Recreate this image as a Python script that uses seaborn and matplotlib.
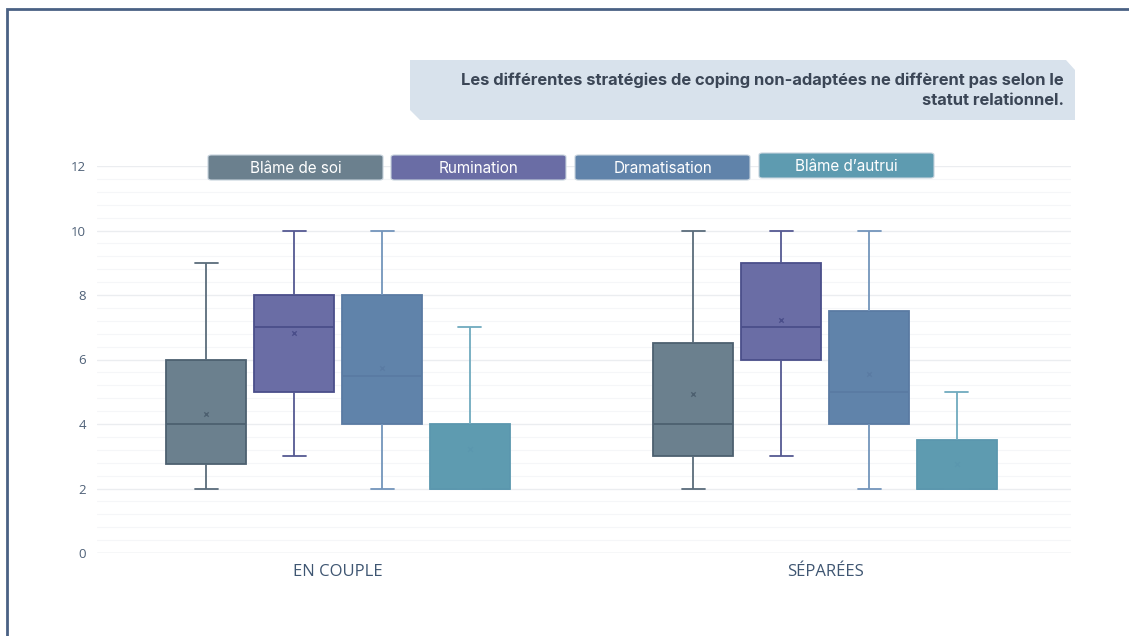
import numpy as np
import pandas as pd
import matplotlib.pyplot as plt
import seaborn as sns
from matplotlib.patches import FancyBboxPatch, Polygon, Rectangle
from matplotlib.colors import to_rgb

# Categories and series
groups = ['EN COUPLE', 'SÉPARÉES']
strategies = ['Blâme de soi', 'Rumination', 'Dramatisation', 'Blâme d\u2019autrui']

# Box summaries (min, q1, median, q3, max), per group
couple_min    = [2, 3, 2, 2]
couple_q1     = [2.75, 5, 4, 2]
couple_median = [4, 7, 5.5, 2]
couple_q3     = [6, 8, 8, 4]
couple_max    = [9, 10, 10, 7]
couple_mean   = [4.3, 6.82, 5.74, 3.22]

sep_min    = [2, 3, 2, 2]
sep_q1     = [3, 6, 4, 2]
sep_median = [4, 7, 5, 2]
sep_q3     = [6.5, 9, 7.5, 3.5]
sep_max    = [10, 10, 10, 5]
sep_mean   = [4.92, 7.23, 5.55, 2.76]

fills = ['#6b808e', '#6a6da5', '#6083aa', '#5e9bb0']
edges = ['#4d6070', '#4a4e8a', '#5a7ba3', '#5b97ae']
whisk = ['#5a6c7b', '#555992', '#7395bb', '#70aabe']
title = ("Les différentes stratégies de coping non-adaptées ne diffèrent pas selon le\n"
         "statut relationnel.")

# Build a long table: five values per box give exactly the drawn quartiles
rows = []
summaries = {
    'EN COUPLE': (couple_min, couple_q1, couple_median, couple_q3, couple_max),
    'SÉPARÉES': (sep_min, sep_q1, sep_median, sep_q3, sep_max),
}
for g in groups:
    for i, s in enumerate(strategies):
        for stat in summaries[g]:
            rows.append({'groupe': g, 'strategie': s, 'score': stat[i]})
df = pd.DataFrame(rows)

means = pd.DataFrame({
    'groupe': [g for g in groups for _ in strategies],
    'strategie': strategies * 2,
    'moyenne': couple_mean + sep_mean,
})

sns.set_theme(style='white')
plt.rcParams['font.family'] = ['Open Sans', 'DejaVu Sans']

fig = plt.figure(figsize=(11.29, 6.36), dpi=100)
ax = fig.add_axes([97 / 1129, 1 - 553 / 636, 974 / 1129, 387 / 636])

sns.boxplot(data=df, x='groupe', y='score', hue='strategie', order=groups,
            hue_order=strategies, palette=fills, width=0.722, gap=0.09,
            whis=np.inf, linewidth=1.3, saturation=1, legend=False, ax=ax)

# recolour every box according to its strategy
centers = []
for p in ax.patches:
    verts = p.get_transform().transform(p.get_path().vertices)
    xs = ax.transData.inverted().transform(verts)[:, 0]
    cx = (xs.min() + xs.max()) / 2
    fc = np.array(to_rgb(p.get_facecolor()))
    k = int(np.argmin([np.sum((fc - np.array(to_rgb(c))) ** 2) for c in fills]))
    p.set_edgecolor(edges[k])
    centers.append((cx, k, xs.max() - xs.min()))

cap_half = 11.5 / 487  # caps about 23 px wide
for ln in ax.lines:
    xd = np.asarray(ln.get_xdata(), dtype=float)
    if xd.size == 0:
        continue
    cx = xd.mean()
    c = min(centers, key=lambda c: abs(c[0] - cx))
    k, bw = c[1], c[2]
    yd = np.asarray(ln.get_ydata(), dtype=float)
    horiz = yd.size == 2 and yd[0] == yd[1]
    if horiz and abs(xd[1] - xd[0]) > 0.8 * bw:
        ln.set_color(edges[k])  # median line
    elif horiz:
        ln.set_xdata([c[0] - cap_half, c[0] + cap_half])
        ln.set_color(whisk[k])
    else:
        ln.set_color(whisk[k])

# mean markers
offsets = {}
for cx, k, _ in centers:
    offsets.setdefault(k, []).append(cx)
for k, s in enumerate(strategies):
    xs = sorted(offsets[k])
    sub = means[means['strategie'] == s]
    ax.scatter(xs, sub['moyenne'].values, marker='x', s=10, linewidths=1,
               color=edges[k], zorder=5)

ax.set_ylim(0, 12)
ax.set_xlim(-0.495, 1.505)
ax.set_yticks(range(0, 13, 2))
ax.set_yticks(np.arange(0, 12.01, 0.4), minor=True)
ax.grid(axis='y', which='major', color='#ebedf0', linewidth=1)
ax.grid(axis='y', which='minor', color='#f5f6f8', linewidth=0.8)
ax.set_axisbelow(True)
for sp in ax.spines.values():
    sp.set_visible(False)
ax.axhline(0, color='#e3e6ea', linewidth=1, zorder=0)
ax.tick_params(axis='y', labelsize=9.5, labelcolor='#4f6178', length=0, pad=8)
ax.tick_params(axis='x', labelsize=12, labelcolor='#3f5672', length=0, pad=8)
ax.set_xlabel('')
ax.set_ylabel('')

# legend tabs
tab_x = [208, 391, 575, 759]
tab_y = [155, 155, 155, 153]
for x0, y0, s, c in zip(tab_x, tab_y, strategies, fills):
    w, h = 175, 25
    fig.patches.append(FancyBboxPatch(
        (x0 / 1129, 1 - (y0 + h) / 636), w / 1129, h / 636,
        boxstyle='round,pad=0,rounding_size=0.003', transform=fig.transFigure,
        facecolor=c, edgecolor='#c7d3dd', linewidth=0.8))
    fig.text((x0 + w / 2) / 1129, 1 - (y0 + h / 2 + 1) / 636, s, color='white',
             fontsize=11, ha='center', va='center', family=['Inter', 'DejaVu Sans'])

# title banner with cut corners
poly = [(410, 60), (1066, 60), (1075, 70), (1075, 120), (420, 120), (410, 110)]
fig.patches.append(Polygon([(x / 1129, 1 - y / 636) for x, y in poly], closed=True,
                           transform=fig.transFigure, facecolor='#d8e2ec',
                           edgecolor='none'))
fig.text(1064 / 1129, 1 - 90 / 636, title, ha='right', va='center',
         fontsize=11.9, fontweight='bold', color='#3b4656', linespacing=1.45,
         family=['Inter', 'DejaVu Sans'])

# outer frame
fig.patches.append(Rectangle((7 / 1129, -0.05), 1.1, 1 - 9 / 636 + 0.05,
                             transform=fig.transFigure, facecolor='none',
                             edgecolor='#4a6184', linewidth=2))

fig.savefig('out.png', dpi=100)
